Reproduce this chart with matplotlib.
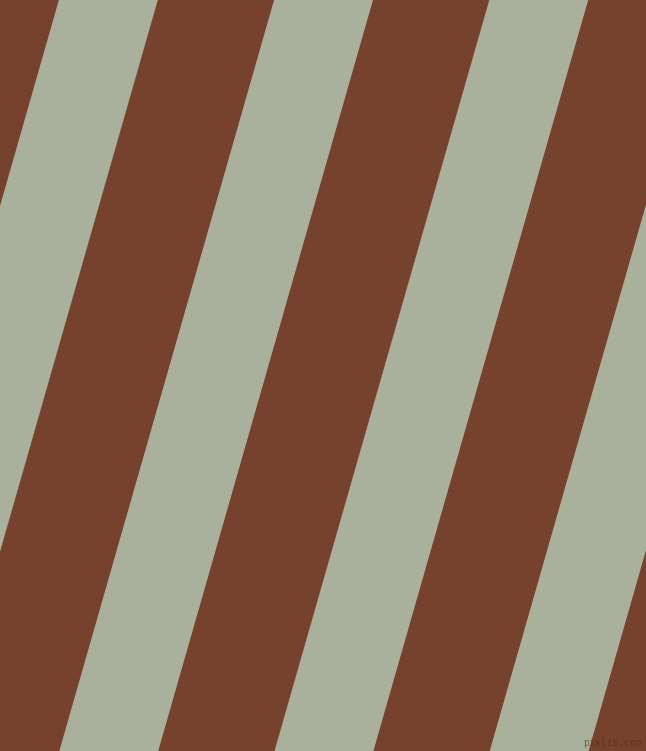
import numpy as np
import matplotlib
matplotlib.use("Agg")
import matplotlib.pyplot as plt

# stripe edges read along the top edge (pixels), and how far they lean
brown = "#77422D"
sage = "#A9B09B"
sage_start = [-156.3, 58.9, 274.1, 489.3, 704.5]
sage_end = [-57.4, 157.8, 373.0, 588.2, 803.4]
lean = 0.286  # dx per dy, going down-left

W, H = 646, 751

fig = plt.figure(figsize=(W / 100, H / 100), dpi=100)
ax = fig.add_axes([0, 0, 1, 1])
ax.set_xlim(0, W)
ax.set_ylim(H, 0)
ax.axis("off")
ax.add_patch(plt.Rectangle((0, 0), W, H, color=brown, zorder=0))

for a, b in zip(sage_start, sage_end):
    xs = [a, b, b - lean * H, a - lean * H]
    ys = [0, 0, H, H]
    ax.fill(xs, ys, color=sage, lw=0, zorder=1)

ax.text(642, 748, "pixlis.com", fontsize=7, color="#4a2a1c", alpha=0.6,
        ha="right", va="bottom", family="DejaVu Sans Mono", zorder=2)

fig.savefig("out.png", dpi=100)
